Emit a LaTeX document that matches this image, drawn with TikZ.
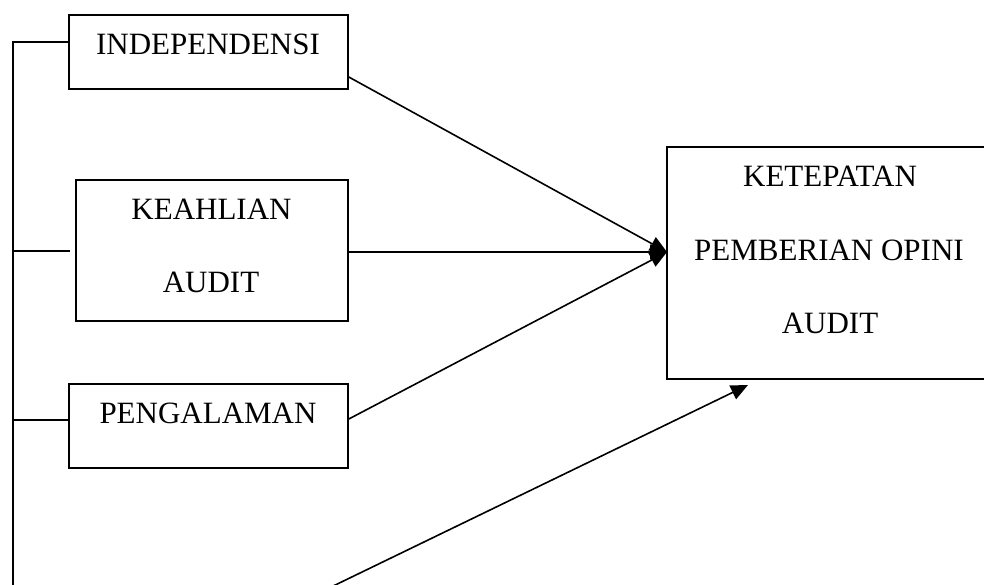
\documentclass[tikz,border=0pt]{standalone}
\usepackage{fontspec}
\setmainfont{Liberation Serif}
\usetikzlibrary{arrows.meta}
\begin{document}
\begin{tikzpicture}[x=1pt,y=-1pt,
  box/.style={draw,line width=1.6pt,inner sep=0pt},
  lbl/.style={anchor=base,inner sep=0pt,font=\fontsize{31}{31}\selectfont},
  conn/.style={line width=1.6pt},
  arr/.style={line width=1.6pt,-{Triangle[length=17pt,width=15pt]}}]
\useasboundingbox (0,0) rectangle (984,585);
% boxes
\node[box,minimum width=279pt,minimum height=74pt] (ind) at (208.5,52) {};
\node[box,minimum width=272pt,minimum height=141pt] (kea) at (212,250.5) {};
\node[box,minimum width=279pt,minimum height=84pt] (pen) at (208.5,426) {};
\node[box,minimum width=324pt,minimum height=232pt] (tgt) at (829,263) {};
% texts
\node[lbl] (t1) at (208,55) {INDEPENDENSI};
\node[lbl] (t2) at (211.5,220) {KEAHLIAN};
\node[lbl] (t3) at (211,292) {AUDIT};
\node[lbl] (t4) at (208,423) {PENGALAMAN};
\node[lbl] (t5) at (830,187) {KETEPATAN};
\node[lbl] (t6) at (829,260) {PEMBERIAN OPINI};
\node[lbl] (t7) at (830,333) {AUDIT};
% left bracket
\coordinate (top) at (13,42);
\coordinate (bot) at (13,590);
\coordinate (k1) at (13,251);
\coordinate (k2) at (70,251);
\coordinate (p1) at (13,420);
\draw[conn] (ind.west |- top) -- (top) -- (bot);
\draw[conn] (k1) -- (k2);
\draw[conn] (p1) -- (pen.west |- p1);
% arrows
\coordinate (tip) at (667,252);
\draw[arr] (ind.east |- 0,77) -- (tip);
\draw[arr] (kea.east |- tip) -- (tip);
\draw[arr] (pen.east |- 0,419) -- (tip);
\coordinate (s) at (327,589);
\coordinate (e) at (748,385);
\draw[arr] (s) -- (e);
\end{tikzpicture}
\end{document}
